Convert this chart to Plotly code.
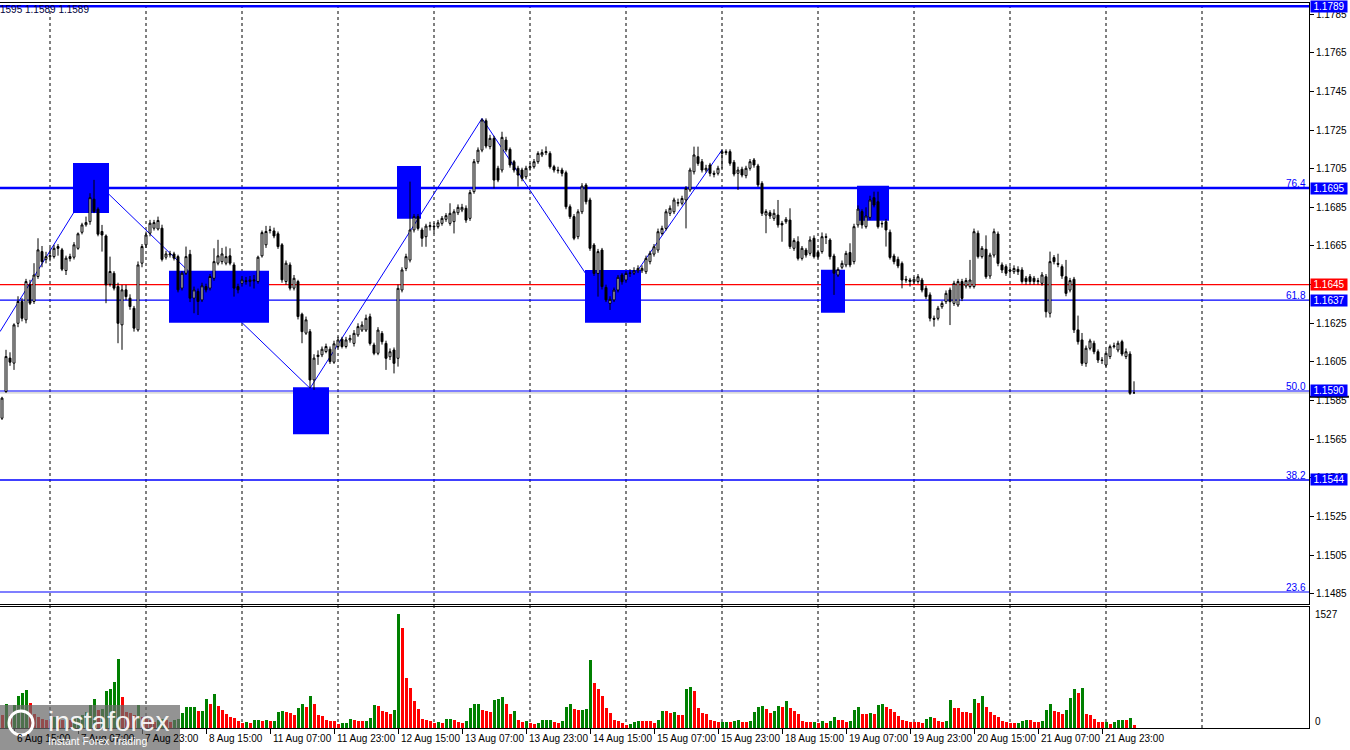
import plotly.graph_objects as go

# ---------------- DATA (EURUSD H1) ----------------
opens = [
    1.15759, 1.15897, 1.16070, 1.16044, 1.16250, 1.16363, 1.16268, 1.16449, 1.16363, 1.16492,
    1.16621, 1.16581, 1.16595, 1.16595, 1.16647, 1.16630, 1.16523, 1.16595, 1.16592, 1.16638,
    1.16721, 1.16760, 1.16776, 1.16892, 1.16840, 1.16725, 1.16702, 1.16452, 1.16509, 1.16440,
    1.16242, 1.16423, 1.16380, 1.16328, 1.16216, 1.16561, 1.16656, 1.16716, 1.16742, 1.16738,
    1.16742, 1.16592, 1.16604, 1.16609, 1.16595, 1.16432, 1.16509, 1.16607, 1.16380, 1.16415,
    1.16371, 1.16440, 1.16432, 1.16483, 1.16561, 1.16569, 1.16561, 1.16599, 1.16552, 1.16440,
    1.16457, 1.16470, 1.16466, 1.16475, 1.16466, 1.16599, 1.16656, 1.16730, 1.16728, 1.16713,
    1.16656, 1.16466, 1.16552, 1.16432, 1.16466, 1.16297, 1.16199, 1.16207, 1.15957, 1.16078,
    1.16087, 1.16104, 1.16116, 1.16049, 1.16130, 1.16168, 1.16130, 1.16164,
    1.16146, 1.16190, 1.16215, 1.16215, 1.16284, 1.16138, 1.16095, 1.16198, 1.16146, 1.16077,
    1.16112, 1.16069, 1.16422, 1.16534, 1.16577, 1.16733, 1.16802, 1.16733, 1.16698, 1.16750,
    1.16753, 1.16750, 1.16767, 1.16788, 1.16767, 1.16776, 1.16822, 1.16836, 1.16845, 1.16793,
    1.16931, 1.17086, 1.17146, 1.17298, 1.17164, 1.17207, 1.17052, 1.17043, 1.17198, 1.17150,
    1.17086, 1.17052, 1.17043, 1.17008, 1.17055, 1.17060, 1.17086, 1.17121, 1.17133, 1.17129,
    1.17060, 1.17043, 1.17043, 1.17029, 1.16853, 1.16802, 1.16698, 1.16827, 1.16965, 1.16888,
    1.16655, 1.16508, 1.16629, 1.16436, 1.16353, 1.16371, 1.16422, 1.16500, 1.16474, 1.16508,
    1.16510, 1.16522, 1.16522, 1.16517, 1.16569, 1.16608, 1.16629, 1.16715, 1.16741, 1.16819,
    1.16827, 1.16871, 1.16871, 1.16888, 1.16940, 1.17034, 1.17112,
    1.17086, 1.17043, 1.17069, 1.17026, 1.17026, 1.17129, 1.17138, 1.17138, 1.17083, 1.17026,
    1.17047, 1.17014, 1.17052, 1.17095, 1.17064, 1.16974, 1.16810, 1.16822, 1.16793, 1.16810,
    1.16767, 1.16776, 1.16784, 1.16638, 1.16672, 1.16586, 1.16629, 1.16612, 1.16690, 1.16617,
    1.16621, 1.16698, 1.16681, 1.16598, 1.16500, 1.16540, 1.16552, 1.16616, 1.16569, 1.16759,
    1.16828, 1.16750, 1.16798, 1.16900, 1.16879, 1.16767, 1.16776, 1.16721, 1.16598, 1.16581,
    1.16560, 1.16478, 1.16474, 1.16466, 1.16466, 1.16474, 1.16431, 1.16397, 1.16276, 1.16276,
    1.16336, 1.16362, 1.16422, 1.16353, 1.16345, 1.16466, 1.16443, 1.16440, 1.16440, 1.16716,
    1.16595, 1.16633, 1.16495, 1.16603, 1.16712, 1.16552, 1.16543, 1.16526, 1.16517, 1.16529,
    1.16526, 1.16483, 1.16491, 1.16483, 1.16466, 1.16457, 1.16491, 1.16302, 1.16590, 1.16560,
    1.16543, 1.16491, 1.16422, 1.16478, 1.16216, 1.16164, 1.16043, 1.16121, 1.16147, 1.16103,
    1.16060, 1.16034, 1.16078, 1.16129, 1.16112, 1.16155, 1.16078, 1.16091, 1.15890,
]
highs = [
    1.15870, 1.16113, 1.16100, 1.16250, 1.16390, 1.16380, 1.16480, 1.16475, 1.16561, 1.16690,
    1.16650, 1.16620, 1.16640, 1.16656, 1.16660, 1.16640, 1.16600, 1.16610, 1.16670, 1.16720,
    1.16770, 1.16802, 1.16923, 1.16992, 1.16850, 1.16759, 1.16710, 1.16595, 1.16520, 1.16460,
    1.16449, 1.16449, 1.16400, 1.16340, 1.16570, 1.16660, 1.16725, 1.16785, 1.16785, 1.16802,
    1.16760, 1.16625, 1.16625, 1.16620, 1.16605, 1.16520, 1.16647, 1.16630, 1.16440, 1.16430,
    1.16460, 1.16455, 1.16505, 1.16638, 1.16682, 1.16640, 1.16647, 1.16638, 1.16565, 1.16455,
    1.16495, 1.16490, 1.16495, 1.16500, 1.16600, 1.16730, 1.16754, 1.16754, 1.16745, 1.16725,
    1.16665, 1.16575, 1.16565, 1.16500, 1.16475, 1.16305, 1.16285, 1.16220, 1.16090, 1.16110,
    1.16130, 1.16145, 1.16130, 1.16160, 1.16180, 1.16180, 1.16180, 1.16190,
    1.16215, 1.16250, 1.16260, 1.16295, 1.16300, 1.16150, 1.16230, 1.16210, 1.16160, 1.16120,
    1.16125, 1.16450, 1.16540, 1.16610, 1.16983, 1.16815, 1.16815, 1.16745, 1.16765, 1.16775,
    1.16770, 1.16785, 1.16805, 1.16820, 1.16871, 1.16840, 1.16865, 1.16868, 1.16860, 1.16940,
    1.17100, 1.17160, 1.17310, 1.17310, 1.17225, 1.17220, 1.17065, 1.17241, 1.17215, 1.17160,
    1.17095, 1.17065, 1.17055, 1.17065, 1.17080, 1.17100, 1.17140, 1.17150, 1.17165, 1.17140,
    1.17070, 1.17060, 1.17055, 1.17040, 1.16865, 1.16815, 1.16840, 1.16975, 1.16975, 1.16900,
    1.16665, 1.16635, 1.16640, 1.16450, 1.16390, 1.16435, 1.16500, 1.16510, 1.16520, 1.16530,
    1.16540, 1.16550, 1.16550, 1.16600, 1.16625, 1.16660, 1.16740, 1.16755, 1.16840, 1.16860,
    1.16900, 1.16895, 1.16910, 1.16960, 1.17055, 1.17164, 1.17164,
    1.17100, 1.17070, 1.17080, 1.17040, 1.17065, 1.17147, 1.17150, 1.17150, 1.17095, 1.17060,
    1.17060, 1.17065, 1.17100, 1.17105, 1.17075, 1.16985, 1.16840, 1.16835, 1.16840, 1.16888,
    1.16780, 1.16800, 1.16845, 1.16690, 1.16700, 1.16650, 1.16640, 1.16700, 1.16705, 1.16630,
    1.16720, 1.16715, 1.16690, 1.16610, 1.16540, 1.16575, 1.16625, 1.16664, 1.16765, 1.16860,
    1.16840, 1.16850, 1.16910, 1.16931, 1.16931, 1.16780, 1.16790, 1.16735, 1.16610, 1.16595,
    1.16570, 1.16495, 1.16485, 1.16490, 1.16505, 1.16485, 1.16445, 1.16410, 1.16290, 1.16340,
    1.16365, 1.16420, 1.16435, 1.16470, 1.16480, 1.16480, 1.16485, 1.16578, 1.16740, 1.16730,
    1.16650, 1.16705, 1.16615, 1.16740, 1.16725, 1.16565, 1.16555, 1.16545, 1.16550, 1.16545,
    1.16540, 1.16495, 1.16505, 1.16495, 1.16485, 1.16515, 1.16505, 1.16621, 1.16603, 1.16610,
    1.16555, 1.16578, 1.16485, 1.16490, 1.16290, 1.16200, 1.16135, 1.16170, 1.16160, 1.16115,
    1.16075, 1.16110, 1.16140, 1.16150, 1.16160, 1.16165, 1.16120, 1.16105, 1.15950,
]
lows = [
    1.15750, 1.15890, 1.16030, 1.16009, 1.16230, 1.16260, 1.16250, 1.16345, 1.16350, 1.16480,
    1.16540, 1.16560, 1.16570, 1.16585, 1.16600, 1.16520, 1.16500, 1.16570, 1.16580, 1.16630,
    1.16710, 1.16750, 1.16760, 1.16820, 1.16700, 1.16621, 1.16354, 1.16440, 1.16420, 1.16147,
    1.16113, 1.16370, 1.16320, 1.16207, 1.16207, 1.16540, 1.16640, 1.16700, 1.16730, 1.16730,
    1.16570, 1.16580, 1.16590, 1.16575, 1.16410, 1.16420, 1.16500, 1.16360, 1.16302, 1.16293,
    1.16360, 1.16410, 1.16420, 1.16470, 1.16550, 1.16555, 1.16550, 1.16550, 1.16388, 1.16405,
    1.16440, 1.16450, 1.16440, 1.16430, 1.16455, 1.16590, 1.16640, 1.16715, 1.16690, 1.16635,
    1.16460, 1.16450, 1.16420, 1.16420, 1.16270, 1.16147, 1.16190, 1.15914, 1.15906, 1.16035,
    1.16075, 1.16095, 1.16040, 1.16040, 1.16120, 1.16120, 1.16120, 1.16150,
    1.16130, 1.16180, 1.16205, 1.16205, 1.16135, 1.16085, 1.16085, 1.16140, 1.16009, 1.16060,
    1.15991, 1.16026, 1.16410, 1.16520, 1.16565, 1.16720, 1.16730, 1.16646, 1.16646, 1.16730,
    1.16715, 1.16740, 1.16755, 1.16775, 1.16755, 1.16715, 1.16810, 1.16825, 1.16770, 1.16780,
    1.16920, 1.17075, 1.17135, 1.17155, 1.17150, 1.16948, 1.16980, 1.17030, 1.17135, 1.17055,
    1.17030, 1.16957, 1.16985, 1.16995, 1.17040, 1.17050, 1.17075, 1.17110, 1.17120, 1.17050,
    1.17030, 1.17025, 1.17010, 1.16840, 1.16790, 1.16680, 1.16685, 1.16815, 1.16865, 1.16625,
    1.16495, 1.16388, 1.16425, 1.16360, 1.16319, 1.16360, 1.16410, 1.16450, 1.16460, 1.16490,
    1.16500, 1.16510, 1.16510, 1.16505, 1.16555, 1.16595, 1.16615, 1.16705, 1.16730, 1.16805,
    1.16815, 1.16855, 1.16860, 1.16741, 1.16930, 1.17020, 1.17065,
    1.17030, 1.17030, 1.17010, 1.17005, 1.17015, 1.17050, 1.17120, 1.17065, 1.17010, 1.16940,
    1.17005, 1.17000, 1.17040, 1.17055, 1.16955, 1.16805, 1.16716, 1.16790, 1.16780, 1.16745,
    1.16672, 1.16765, 1.16635, 1.16625, 1.16575, 1.16575, 1.16590, 1.16600, 1.16585, 1.16585,
    1.16610, 1.16660, 1.16580, 1.16397, 1.16490, 1.16530, 1.16540, 1.16540, 1.16555, 1.16745,
    1.16740, 1.16740, 1.16785, 1.16850, 1.16740, 1.16745, 1.16647, 1.16580, 1.16555, 1.16535,
    1.16431, 1.16460, 1.16440, 1.16455, 1.16455, 1.16410, 1.16375, 1.16260, 1.16233, 1.16265,
    1.16325, 1.16350, 1.16241, 1.16340, 1.16335, 1.16365, 1.16430, 1.16430, 1.16430, 1.16585,
    1.16585, 1.16480, 1.16480, 1.16590, 1.16545, 1.16510, 1.16495, 1.16500, 1.16505, 1.16500,
    1.16455, 1.16450, 1.16450, 1.16450, 1.16450, 1.16445, 1.16280, 1.16280, 1.16555, 1.16540,
    1.16480, 1.16390, 1.16410, 1.16200, 1.16140, 1.16030, 1.16025, 1.16110, 1.16090, 1.16045,
    1.16040, 1.16025, 1.16065, 1.16120, 1.16100, 1.16080, 1.16065, 1.15880, 1.15890,
]
closes = [
    1.15863, 1.16078, 1.16049, 1.16242, 1.16363, 1.16276, 1.16466, 1.16354, 1.16500, 1.16630,
    1.16569, 1.16595, 1.16600, 1.16638, 1.16638, 1.16530, 1.16587, 1.16585, 1.16656, 1.16713,
    1.16759, 1.16771, 1.16900, 1.16828, 1.16711, 1.16707, 1.16449, 1.16518, 1.16432, 1.16250,
    1.16423, 1.16388, 1.16337, 1.16225, 1.16552, 1.16647, 1.16707, 1.16768, 1.16771, 1.16782,
    1.16581, 1.16609, 1.16609, 1.16587, 1.16423, 1.16509, 1.16595, 1.16380, 1.16423, 1.16363,
    1.16444, 1.16423, 1.16492, 1.16569, 1.16599, 1.16609, 1.16595, 1.16561, 1.16432, 1.16423,
    1.16475, 1.16466, 1.16475, 1.16470, 1.16592, 1.16719, 1.16725, 1.16733, 1.16702, 1.16647,
    1.16475, 1.16561, 1.16432, 1.16483, 1.16285, 1.16207, 1.16268, 1.15957, 1.16070, 1.16085,
    1.16116, 1.16130, 1.16052, 1.16144, 1.16164, 1.16130, 1.16164, 1.16172,
    1.16198, 1.16233, 1.16241, 1.16276, 1.16146, 1.16095, 1.16215, 1.16155, 1.16069, 1.16103,
    1.16043, 1.16431, 1.16526, 1.16595, 1.16733, 1.16802, 1.16741, 1.16690, 1.16753, 1.16755,
    1.16750, 1.16770, 1.16793, 1.16807, 1.16819, 1.16827, 1.16850, 1.16850, 1.16784, 1.16926,
    1.17086, 1.17146, 1.17302, 1.17167, 1.17207, 1.16991, 1.16991, 1.17212, 1.17146, 1.17069,
    1.17043, 1.17017, 1.17000, 1.17052, 1.17060, 1.17086, 1.17129, 1.17133, 1.17138, 1.17060,
    1.17043, 1.17040, 1.17026, 1.16853, 1.16802, 1.16690, 1.16827, 1.16960, 1.16879, 1.16638,
    1.16508, 1.16621, 1.16440, 1.16371, 1.16374, 1.16422, 1.16488, 1.16465, 1.16508, 1.16510,
    1.16522, 1.16534, 1.16534, 1.16586, 1.16612, 1.16646, 1.16724, 1.16741, 1.16827, 1.16845,
    1.16888, 1.16875, 1.16896, 1.16948, 1.17043, 1.17121, 1.17077,
    1.17043, 1.17052, 1.17026, 1.17021, 1.17052, 1.17138, 1.17133, 1.17078, 1.17022, 1.17043,
    1.17017, 1.17052, 1.17086, 1.17069, 1.16966, 1.16819, 1.16828, 1.16805, 1.16819, 1.16759,
    1.16759, 1.16788, 1.16647, 1.16678, 1.16586, 1.16638, 1.16603, 1.16681, 1.16595, 1.16595,
    1.16698, 1.16695, 1.16595, 1.16509, 1.16529, 1.16560, 1.16612, 1.16552, 1.16750, 1.16841,
    1.16759, 1.16805, 1.16888, 1.16862, 1.16750, 1.16765, 1.16733, 1.16591, 1.16569, 1.16547,
    1.16474, 1.16474, 1.16466, 1.16478, 1.16491, 1.16422, 1.16388, 1.16276, 1.16271, 1.16328,
    1.16353, 1.16405, 1.16362, 1.16457, 1.16466, 1.16379, 1.16471, 1.16474, 1.16724, 1.16595,
    1.16638, 1.16491, 1.16603, 1.16724, 1.16560, 1.16526, 1.16509, 1.16520, 1.16534, 1.16517,
    1.16466, 1.16466, 1.16466, 1.16466, 1.16470, 1.16500, 1.16310, 1.16569, 1.16569, 1.16555,
    1.16495, 1.16405, 1.16471, 1.16216, 1.16155, 1.16043, 1.16121, 1.16159, 1.16103, 1.16060,
    1.16058, 1.16095, 1.16129, 1.16133, 1.16147, 1.16091, 1.16103, 1.15888, 1.15890,
]
volumes = [
    170, 317, 170, 304, 425, 465, 505, 331, 192, 148,
    125, 103, 89, 148, 125, 103, 125, 103, 125, 148,
    170, 215, 304, 384, 237, 259, 492, 519, 612, 921,
    416, 215, 200, 170, 304, 148, 125, 103, 80, 103,
    125, 103, 80, 103, 116, 201, 277, 280, 283, 224,
    226, 384, 317, 451, 291, 237, 183, 143, 140, 89,
    63, 85, 63, 103, 106, 100, 103, 89, 92, 210,
    224, 210, 207, 170, 264, 317, 277, 425, 317, 170,
    167, 103, 100, 89, 49, 63, 66, 116, 103, 92,
    89, 92, 130, 304, 301, 224, 210, 183, 237, 1527,
    1337, 666, 532, 358, 250, 116, 103, 89, 63, 76,
    63, 116, 119, 103, 76, 73, 89, 264, 317, 320,
    237, 224, 221, 371, 384, 411, 317, 183, 224, 103,
    76, 89, 63, 60, 63, 103, 106, 109, 76, 73,
    89, 277, 317, 250, 237, 240, 250, 907, 599, 519,
    425, 264, 197, 103, 89, 63, 36, 49, 76, 89,
    89, 89, 89, 63, 103, 224, 224, 197, 210, 170,
    170, 519, 545, 492, 264, 197, 183, 103, 89, 76,
    79, 82, 76, 89, 103, 76, 76, 89, 210, 277,
    291, 250, 197, 224, 291, 277, 358, 264, 224, 183,
    89, 76, 76, 79, 63, 89, 63, 89, 143, 103,
    103, 76, 89, 237, 277, 183, 183, 197, 183, 304,
    317, 277, 250, 210, 156, 103, 89, 76, 76, 76,
    63, 116, 143, 130, 89, 76, 89, 371, 264, 264,
    210, 210, 197, 384, 331, 425, 277, 210, 170, 143,
    89, 76, 63, 63, 66, 89, 103, 103, 76, 76,
    89, 237, 317, 224, 210, 183, 237, 398, 519, 465,
    532, 183, 170, 116, 76, 76, 79, 49, 76, 103,
    106, 103, 130, 36,
]

# time-axis labels (bar index -> label)
tick_idx = [3, 19, 35, 51, 67, 83, 99, 115, 131, 147, 163, 179, 195, 211, 227, 243, 259, 275]
tick_labels = ["6 Aug 15:00", "7 Aug 07:00", "7 Aug 23:00", "8 Aug 15:00", "11 Aug 07:00",
               "11 Aug 23:00", "12 Aug 15:00", "13 Aug 07:00", "13 Aug 23:00", "14 Aug 15:00",
               "15 Aug 07:00", "15 Aug 23:00", "18 Aug 15:00", "19 Aug 07:00", "19 Aug 23:00",
               "20 Aug 15:00", "21 Aug 07:00", "21 Aug 23:00"]
# first bar of each trading day (vertical separators)
day_start_idx = [12, 36, 60, 84, 108, 132, 156, 180, 204, 228, 252, 276, 300]

price_ticks = [1.1485, 1.1505, 1.1525, 1.1545, 1.1565, 1.1585, 1.1605, 1.1625,
               1.1645, 1.1665, 1.1685, 1.1705, 1.1725, 1.1745, 1.1765, 1.1785]

# Fibonacci / horizontal levels
fib_levels = [1.1789, 1.1695, 1.1637, 1.1590, 1.1544, 1.1486]
fib_names = ["", "76.4", "61.8", "50.0", "38.2", "23.6"]
red_level = 1.1645
bid_price = 1.1589
axis_boxes = [1.1789, 1.1695, 1.1645, 1.1637, 1.1590, 1.1544]

# zigzag pivots (bar index, price)
zz_idx = [-0.5, 23, 77, 120, 152, 180]
zz_price = [1.16207, 1.16992, 1.15914, 1.17310, 1.16319, 1.17147]

# blue zones: (bar from, bar to, price low, price high)
zone_x0 = [17.75, 41.75, 72.75, 98.75, 145.75, 204.75, 213.75]
zone_x1 = [26.75, 66.75, 81.75, 104.75, 159.75, 210.75, 221.75]
zone_lo = [1.16821, 1.16253, 1.15676, 1.16791, 1.16253, 1.16305, 1.16781]
zone_hi = [1.17079, 1.16522, 1.15919, 1.17064, 1.16526, 1.16527, 1.16962]

# ---------------- FIGURE ----------------
BLUE = "#0000FF"
RED = "#FF0000"
FONT = "Liberation Sans"
bars = list(range(len(opens)))
XR = [-0.5, 326.75]

shapes = []
# zigzag (drawn behind the zones)
for i in range(len(zz_idx) - 1):
    shapes.append(dict(type="line", xref="x", yref="y", x0=zz_idx[i], x1=zz_idx[i + 1],
                       y0=zz_price[i], y1=zz_price[i + 1], line=dict(color=BLUE, width=1), layer="below"))
# zones
for a, b, lo, hi in zip(zone_x0, zone_x1, zone_lo, zone_hi):
    shapes.append(dict(type="rect", xref="x", yref="y", x0=a, x1=b, y0=lo, y1=hi,
                       fillcolor=BLUE, line=dict(width=0), layer="below"))
# day separators
for d in day_start_idx:
    shapes.append(dict(type="line", xref="x", yref="paper", x0=d, x1=d, y0=0, y1=1,
                       line=dict(color="black", width=1, dash="3px,3px"), layer="below"))
# horizontal levels
for lv in fib_levels:
    w = 2.5 if lv in (1.1789, 1.1695) else (1.5 if lv == 1.1544 else 1.1)
    shapes.append(dict(type="line", xref="paper", yref="y", x0=0, x1=1, y0=lv, y1=lv,
                       line=dict(color=BLUE, width=w), layer="below"))
shapes.append(dict(type="line", xref="paper", yref="y", x0=0, x1=1, y0=red_level, y1=red_level,
                   line=dict(color=RED, width=1.3), layer="below"))
shapes.append(dict(type="line", xref="paper", yref="y", x0=0, x1=1, y0=bid_price, y1=bid_price,
                   line=dict(color="#C0C0C0", width=1), layer="below"))
# current price mark on the axis
shapes.append(dict(type="line", xref="paper", yref="y", x0=1.0, x1=1.0305, y0=1.15870, y1=1.15870,
                   line=dict(color="black", width=2)))
# watermark box
shapes.append(dict(type="rect", xref="paper", yref="paper", x0=0, x1=180 / 1309,
                   y0=-22 / 725, y1=23 / 725, fillcolor="rgba(105,105,105,0.72)",
                   line=dict(width=0), layer="above"))
shapes.append(dict(type="circle", xref="paper", yref="paper", x0=9 / 1309, x1=33 / 1309,
                   y0=-7 / 725, y1=17 / 725, line=dict(color="white", width=3), layer="above"))

annotations = []
for v, lab in zip(tick_idx, tick_labels):
    annotations.append(dict(x=v, y=0, xref="x2", yref="paper", text=lab, showarrow=False,
                            xanchor="left", yanchor="top", xshift=1, yshift=-3,
                            font=dict(family=FONT, size=10, color="black")))
for lv, nm in zip(fib_levels, fib_names):
    if nm:
        annotations.append(dict(x=1, y=lv, xref="paper", yref="y", text=nm, showarrow=False,
                                xanchor="right", yanchor="bottom", xshift=-1, yshift=-3,
                                font=dict(family=FONT, size=10, color=BLUE)))
for lv in axis_boxes:
    col = RED if lv == red_level else BLUE
    annotations.append(dict(x=1, y=lv, xref="paper", yref="y", text=f"{lv:.4f}", showarrow=False,
                            xanchor="left", yanchor="middle", xshift=1, width=36, height=11,
                            bgcolor=col, borderpad=0, align="center",
                            font=dict(family=FONT, size=10, color="white")))
annotations.append(dict(x=1, y=max(volumes), xref="paper", yref="y2", text=f"{max(volumes)}",
                        showarrow=False, xanchor="left", yanchor="middle", xshift=4,
                        font=dict(family=FONT, size=10, color="black")))
annotations.append(dict(x=1, y=0, xref="paper", yref="y2", text="0", showarrow=False,
                        xanchor="left", yanchor="bottom", xshift=4, yshift=-1,
                        font=dict(family=FONT, size=10, color="black")))
annotations.append(dict(x=0, y=1, xref="paper", yref="paper", text="1595 1.1589 1.1589",
                        showarrow=False, xanchor="left", yanchor="top", xshift=-2, yshift=1,
                        font=dict(family=FONT, size=10, color="#000040")))
annotations.append(dict(x=108 / 1309, y=7 / 725, xref="paper", yref="paper", text="instaforex",
                        showarrow=False, xanchor="center", yanchor="middle",
                        font=dict(family=FONT, size=28, color="rgba(255,255,255,0.92)")))
annotations.append(dict(x=98 / 1309, y=-13 / 725, xref="paper", yref="paper",
                        text="Instant Forex Trading", showarrow=False, xanchor="center",
                        yanchor="middle", font=dict(family=FONT, size=10.5, color="white")))

vol_colors = ["#008000" if i > 0 and volumes[i] > volumes[i - 1] else RED for i in bars]

fig = go.Figure()
fig.add_trace(go.Bar(x=bars, y=volumes, xaxis="x2", yaxis="y2", width=0.75,
                     marker=dict(color=vol_colors, line=dict(width=0)), hoverinfo="skip"))
fig.add_trace(go.Candlestick(
    x=bars, open=opens, high=highs, low=lows, close=closes, xaxis="x", yaxis="y",
    increasing=dict(fillcolor="white", line=dict(color="black", width=1)),
    decreasing=dict(fillcolor="black", line=dict(color="black", width=1)),
    whiskerwidth=0, hoverinfo="skip"))

fig.update_layout(
    width=1350, height=750, margin=dict(l=0, r=41, t=3, b=22),
    paper_bgcolor="white", plot_bgcolor="white", showlegend=False, bargap=0,
    shapes=shapes, annotations=annotations,
    xaxis=dict(domain=[0, 1], range=XR, anchor="y", showgrid=False, zeroline=False,
               showticklabels=False, ticks="", showline=True, mirror=True,
               linecolor="black", linewidth=1, rangeslider=dict(visible=False)),
    yaxis=dict(domain=[124 / 725, 1], range=[1.14798, 1.17907], anchor="x", side="right",
               showgrid=False, zeroline=False, showline=True, linecolor="black", linewidth=1,
               ticks="outside", ticklen=4, tickcolor="black",
               tickvals=price_ticks, ticktext=[f"{p:.4f}" for p in price_ticks],
               tickfont=dict(family=FONT, size=10, color="black")),
    xaxis2=dict(domain=[0, 1], range=XR, anchor="y2", showgrid=False, zeroline=False,
                showline=True, mirror=True, linecolor="black", linewidth=1,
                tickvals=tick_idx, ticktext=[""] * len(tick_idx), ticks="outside",
                ticklen=5, tickcolor="black"),
    yaxis2=dict(domain=[0, 121 / 725], range=[0, 1621], anchor="x2", side="right",
                showgrid=False, zeroline=False, showline=True, linecolor="black",
                linewidth=1, showticklabels=False, ticks=""),
)

fig.write_html("out.html", config={"displayModeBar": False},
               post_script="document.body.style.margin='0';document.body.style.overflow='hidden';")
